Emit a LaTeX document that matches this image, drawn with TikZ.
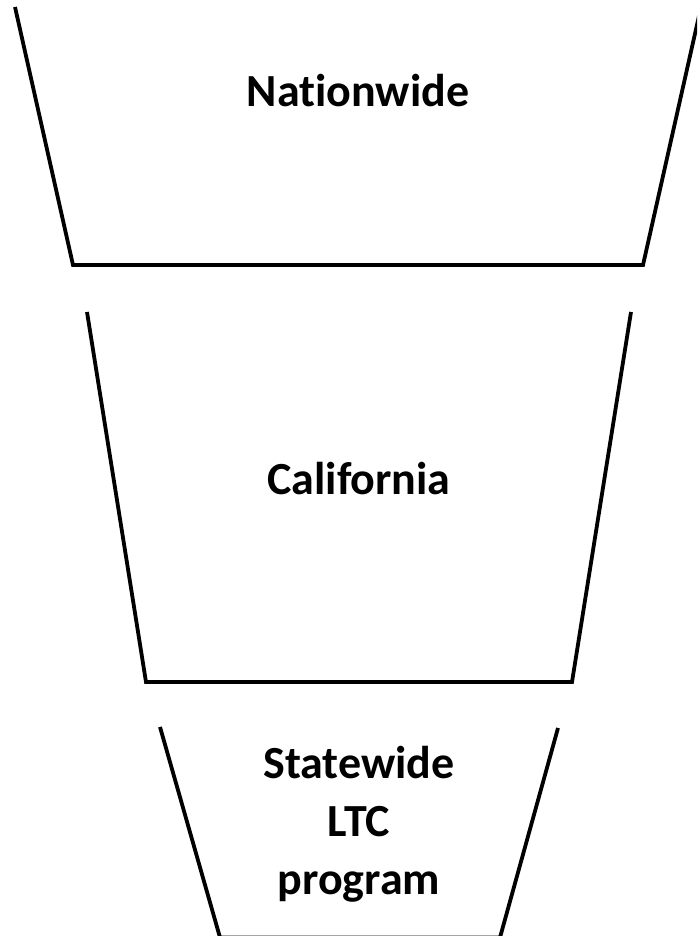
\documentclass[tikz,border=0pt]{standalone}
\usepackage{fontspec}
\setmainfont{Carlito}[Ligatures=NoCommon]
\usepackage{tikz}
\usetikzlibrary{positioning}

\begin{document}
\begin{tikzpicture}[x=1pt, y=1pt,
    cup/.style={line width=3.8pt, black, line join=miter},
    level/.style={font=\fontsize{46}{58}\selectfont\bfseries, align=center, inner sep=0pt}]
    \useasboundingbox (0,0) rectangle (697,936);
    \clip (0,0) rectangle (697,936);

    % Top funnel level
    \coordinate (T1) at (15, 929);
    \coordinate (T2) at (73, 671);
    \coordinate (T3) at (643, 671);
    \coordinate (T4) at (701, 929);
    \draw[cup] (T1) -- (T2) -- (T3) -- (T4);
    \node[level, anchor=base] (nation) at (358, 829) {Nationwide};

    % Middle funnel level
    \coordinate (M1) at (87, 624);
    \coordinate (M2) at (146, 254);
    \coordinate (M3) at (572, 254);
    \coordinate (M4) at (631, 624);
    \draw[cup] (M1) -- (M2) -- (M3) -- (M4);
    \node[level, anchor=base] (calif) at (359, 441) {California};

    % Bottom funnel level
    \coordinate (B1) at (160, 209);
    \coordinate (B2) at (220, -1.5);
    \coordinate (B3) at (500, -1.5);
    \coordinate (B4) at (558, 208);
    \draw[cup] (B1) -- (B2) -- (B3) -- (B4);
    \node[level, anchor=base] (ltc) at (359, 41) {Statewide\\LTC\\program};
\end{tikzpicture}
\end{document}
